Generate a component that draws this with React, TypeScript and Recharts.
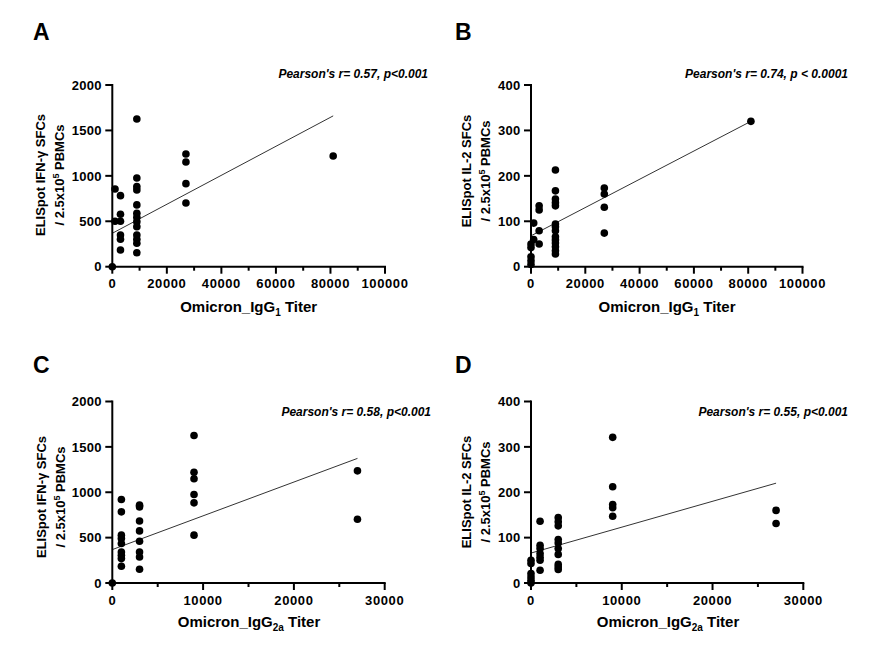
import React from 'react';
import { ScatterChart, Scatter, XAxis, YAxis, ReferenceLine } from 'recharts';

const FONT = '"Liberation Sans", Arial, Helvetica, sans-serif';

// A: Omicron IgG1 titer vs IFN-γ spots
const titerA = [0, 1000, 1000, 3000, 3000, 3000, 3000, 3000, 3000,
  9000, 9000, 9000, 9000, 9000, 9000, 9000, 9000, 9000, 9000, 9000, 9000, 9000,
  27000, 27000, 27000, 27000, 81000];
const ifnA = [0, 855, 500, 782, 577, 500, 349, 302, 184,
  1626, 977, 881, 845, 680, 588, 544, 496, 441, 349, 302, 258, 154,
  1241, 1153, 914, 701, 1219];
const fitA = [[0, 368], [81000, 1660]];

// B: Omicron IgG1 titer vs IL-2 spots
const titerB = [0, 0, 0, 0, 0, 1000, 1000, 3000, 3000, 3000, 3000,
  9000, 9000, 9000, 9000, 9000, 9000, 9000, 9000, 9000, 9000, 9000, 9000, 9000, 9000,
  27000, 27000, 27000, 27000, 81000];
const il2B = [50, 42, 22, 13, 5, 96, 60, 134, 125, 79, 50,
  213, 167, 149, 141, 134, 94, 88, 79, 66, 59, 52, 44, 35, 28,
  173, 160, 131, 74, 320];
const fitB = [[0, 68], [81000, 320]];

// C: Omicron IgG2a titer vs IFN-γ spots
const titerC = [0, 1000, 1000, 1000, 1000, 1000, 1000, 1000, 1000, 1000,
  3000, 3000, 3000, 3000, 3000, 3000, 3000, 3000,
  9000, 9000, 9000, 9000, 9000, 9000, 27000, 27000];
const ifnC = [0, 920, 784, 527, 490, 435, 342, 306, 269, 184,
  858, 839, 684, 574, 460, 342, 287, 151,
  1626, 1221, 1148, 975, 883, 527, 1236, 702];
const fitC = [[0, 368], [27000, 1373]];

// D: Omicron IgG2a titer vs IL-2 spots
const titerD = [0, 0, 0, 0, 0, 0, 1000, 1000, 1000, 1000, 1000, 1000, 1000,
  3000, 3000, 3000, 3000, 3000, 3000, 3000, 3000, 3000, 3000,
  9000, 9000, 9000, 9000, 9000, 27000, 27000];
const il2D = [50, 43, 21, 13, 6, 0, 136, 83, 76, 65, 57, 50, 28,
  144, 135, 126, 96, 88, 76, 63, 41, 35, 30,
  321, 212, 173, 166, 147, 160, 131];
const fitD = [[0, 66], [27000, 220]];

const ticksX1 = [0, 10000, 20000, 30000, 40000, 50000, 60000, 70000, 80000, 90000, 100000];
const ticksX2 = [0, 5000, 10000, 15000, 20000, 25000, 30000];
const ticksIfn = [0, 500, 1000, 1500, 2000];
const ticksIl2 = [0, 100, 200, 300, 400];

const zip = (xs: number[], ys: number[]) => xs.map((x, i) => ({ x, y: ys[i] }));

function XTick(props: any, major: number) {
  const { x, y, payload } = props;
  const isMajor = payload.value % major === 0;
  return (
    <g>
      <line x1={x} x2={x} y1={y} y2={y + (isMajor ? 7 : 4)} stroke="#000" strokeWidth={2} />
      {isMajor && (
        <text x={x} y={y + 21.5} textAnchor="middle" fontFamily={FONT} fontWeight="bold"
          fontSize={13} letterSpacing={0.6} fill="#000">{payload.value}</text>
      )}
    </g>
  );
}

function YTick(props: any) {
  const { x, y, payload } = props;
  return (
    <g>
      <line x1={x - 7} x2={x} y1={y} y2={y} stroke="#000" strokeWidth={2} />
      <text x={x - 10.5} y={y} dy="0.36em" textAnchor="end" fontFamily={FONT} fontWeight="bold"
        fontSize={13} letterSpacing={0.3} fill="#000">{payload.value}</text>
    </g>
  );
}

function Dot(p: any) {
  return <circle cx={p.cx} cy={p.cy} r={3.8} fill="#000" />;
}

interface PanelProps {
  left: number; top: number; width: number; height: number;
  margin: { top: number; right: number; bottom: number; left: number };
  xs: number[]; ys: number[]; fit: number[][];
  xTicks: number[]; xMajor: number; yTicks: number[];
}

function Panel({ left, top, width, height, margin, xs, ys, fit, xTicks, xMajor, yTicks }: PanelProps) {
  const data = zip(xs, ys);
  return (
    <div style={{ position: 'absolute', left, top, width, height }}>
      <ScatterChart width={width} height={height} margin={margin}>
        <XAxis type="number" dataKey="x" domain={[0, xTicks[xTicks.length - 1]]} ticks={xTicks}
          interval={0} tickSize={0} tickMargin={0} tickLine={false} height={30}
          axisLine={{ stroke: '#000', strokeWidth: 2, strokeLinecap: 'square' }}
          tick={(p: any) => XTick(p, xMajor)} />
        <YAxis type="number" dataKey="y" domain={[0, yTicks[yTicks.length - 1]]} ticks={yTicks}
          interval={0} tickSize={0} tickMargin={0} tickLine={false} width={60}
          axisLine={{ stroke: '#000', strokeWidth: 2, strokeLinecap: 'square' }}
          tick={(p: any) => YTick(p)} />
        <ReferenceLine segment={[{ x: fit[0][0], y: fit[0][1] }, { x: fit[1][0], y: fit[1][1] }]}
          stroke="#333" strokeWidth={1} ifOverflow="visible" />
        <Scatter data={data} shape={Dot} isAnimationActive={false} />
      </ScatterChart>
    </div>
  );
}

const bold = { fontFamily: FONT, fontWeight: 'bold' as const, fill: '#000' };

function YTitle({ x, y, line1 }: { x: number; y: number; line1: string }) {
  return (
    <g>
      <text transform={`translate(${x},${y}) rotate(-90)`} textAnchor="middle" fontSize={13} {...bold}>{line1}</text>
      <text transform={`translate(${x + 18.5},${y}) rotate(-90)`} textAnchor="middle" fontSize={13} {...bold}>
        / 2.5x10<tspan dy={-5} fontSize={9}>5</tspan><tspan dy={5}> PBMCs</tspan>
      </text>
    </g>
  );
}

function XTitle({ x, y, sub }: { x: number; y: number; sub: string }) {
  return (
    <text x={x} y={y} textAnchor="middle" fontSize={15} {...bold}>
      Omicron_IgG<tspan dy={4} fontSize={10}>{sub}</tspan><tspan dy={-4}> Titer</tspan>
    </text>
  );
}

function Stat({ x, y, r, p }: { x: number; y: number; r: string; p: string }) {
  return (
    <text x={x} y={y} textAnchor="end" fontSize={12} fontStyle="italic" {...bold}>
      {`Pearson's r= ${r}, p${p}`}
    </text>
  );
}

export default function App() {
  return (
    <div style={{ position: 'absolute', left: 0, top: 0, width: 885, height: 656, background: '#fff' }}>
      <Panel left={0} top={0} width={442} height={328}
        margin={{ top: 85, right: 57, bottom: 31.3, left: 52.3 }}
        xs={titerA} ys={ifnA} fit={fitA} xTicks={ticksX1} xMajor={20000} yTicks={ticksIfn} />
      <Panel left={442} top={0} width={443} height={328}
        margin={{ top: 85, right: 82.5, bottom: 31.3, left: 29 }}
        xs={titerB} ys={il2B} fit={fitB} xTicks={ticksX1} xMajor={20000} yTicks={ticksIl2} />
      <Panel left={0} top={328} width={442} height={328}
        margin={{ top: 73.5, right: 57.3, bottom: 43, left: 52.3 }}
        xs={titerC} ys={ifnC} fit={fitC} xTicks={ticksX2} xMajor={10000} yTicks={ticksIfn} />
      <Panel left={442} top={328} width={443} height={328}
        margin={{ top: 73.5, right: 81.7, bottom: 43, left: 29 }}
        xs={titerD} ys={il2D} fit={fitD} xTicks={ticksX2} xMajor={10000} yTicks={ticksIl2} />
      <svg width={885} height={656} style={{ position: 'absolute', left: 0, top: 0, pointerEvents: 'none' }}>
        <text x={33} y={40} fontSize={23} {...bold}>A</text>
        <text x={455} y={40} fontSize={23} {...bold}>B</text>
        <text x={33} y={373} fontSize={23} {...bold}>C</text>
        <text x={455} y={373} fontSize={23} {...bold}>D</text>

        <Stat x={428} y={78} r="0.57" p="<0.001" />
        <Stat x={848} y={78} r="0.74" p=" < 0.0001" />
        <Stat x={431} y={416} r="0.58" p="<0.001" />
        <Stat x={848} y={416} r="0.55" p="<0.001" />

        <YTitle x={45} y={175} line1="ELISpot IFN-γ SFCs" />
        <YTitle x={471} y={171} line1="ELISpot IL-2 SFCs" />
        <YTitle x={46} y={497} line1="ELISpot IFN-γ SFCs" />
        <YTitle x={471} y={492} line1="ELISpot IL-2 SFCs" />

        <XTitle x={248.7} y={311.5} sub="1" />
        <XTitle x={667} y={311.5} sub="1" />
        <XTitle x={249} y={626.5} sub="2a" />
        <XTitle x={668} y={626.5} sub="2a" />
      </svg>
    </div>
  );
}
